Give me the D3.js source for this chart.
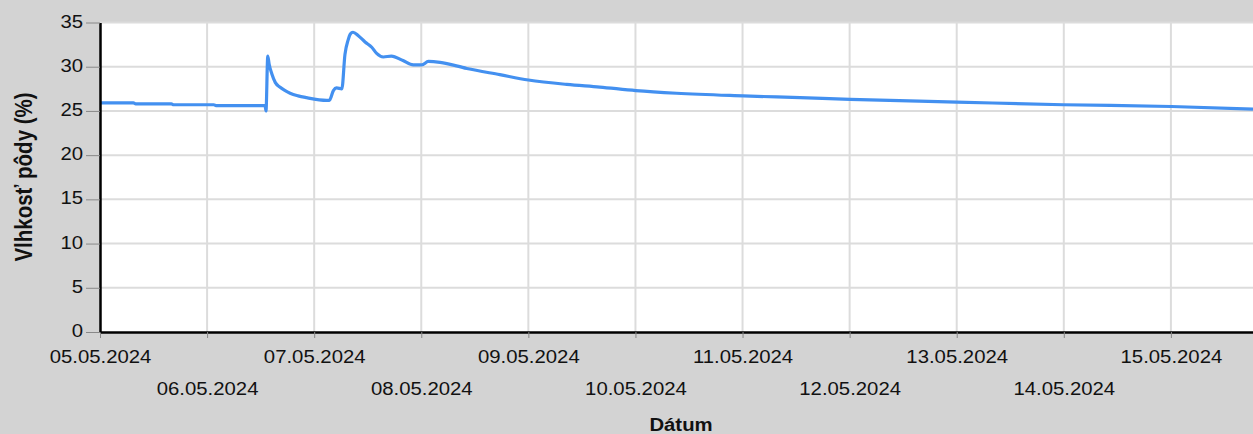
<!DOCTYPE html>
<html lang="sk">
<head>
<meta charset="UTF-8">
<title>Vlhkosť pôdy</title>
<style>
  body { margin: 0; background: #d3d3d3; overflow: hidden; }
  svg text { font-family: "Liberation Sans", Arial, sans-serif; fill: #111; }
</style>
</head>
<body>
<div id="chart"></div>
<script src="https://d3js.org/d3.v7.min.js"></script>
<script>
// soil moisture readings (time, %)
var times = [
  "2024-05-05 00:00", "2024-05-05 07:30", "2024-05-05 08:00", "2024-05-05 16:00", "2024-05-05 16:30",
  "2024-05-06 01:30", "2024-05-06 02:00", "2024-05-06 13:00", "2024-05-06 13:12", "2024-05-06 13:36",
  "2024-05-06 13:54", "2024-05-06 14:30", "2024-05-06 15:18", "2024-05-06 16:18", "2024-05-06 17:30",
  "2024-05-06 18:36", "2024-05-06 20:24", "2024-05-06 22:18",
  "2024-05-07 02:48", "2024-05-07 03:24", "2024-05-07 04:18", "2024-05-07 05:00", "2024-05-07 06:12",
  "2024-05-07 06:54", "2024-05-07 07:36", "2024-05-07 08:06", "2024-05-07 08:42", "2024-05-07 09:54",
  "2024-05-07 11:24", "2024-05-07 12:54", "2024-05-07 14:00", "2024-05-07 15:30", "2024-05-07 17:18",
  "2024-05-07 19:54", "2024-05-07 22:12", "2024-05-08 00:06", "2024-05-08 01:36", "2024-05-08 04:12",
  "2024-05-08 10:12", "2024-05-08 17:36", "2024-05-09 00:00", "2024-05-09 08:36", "2024-05-09 16:00",
  "2024-05-10 00:06", "2024-05-10 09:12", "2024-05-11 00:12", "2024-05-11 12:54", "2024-05-12 00:06",
  "2024-05-13 00:00", "2024-05-13 23:54", "2024-05-15 00:06", "2024-05-15 18:24"
];
var values = [
  25.9, 25.9, 25.8, 25.8, 25.7,
  25.7, 25.6, 25.6, 25.0, 31.2,
  30.3, 29.2, 28.2, 27.7, 27.3,
  27.0, 26.7, 26.5,
  26.2, 26.2, 27.3, 27.6, 27.5,
  31.4, 33.0, 33.7, 33.9, 33.5,
  32.8, 32.2, 31.5, 31.1, 31.2,
  30.7, 30.2, 30.2, 30.6, 30.5,
  29.8, 29.1, 28.5, 28.0, 27.7,
  27.3, 27.0, 26.7, 26.5, 26.3,
  26.0, 25.7, 25.5, 25.2
];
var dayTicks = [
  "2024-05-05", "2024-05-06", "2024-05-07", "2024-05-08", "2024-05-09", "2024-05-10",
  "2024-05-11", "2024-05-12", "2024-05-13", "2024-05-14", "2024-05-15"
];
var yTicks = [0, 5, 10, 15, 20, 25, 30, 35];

var width = 1253, height = 434;
var plotLeft = 100, plotTop = 22.5, plotBottom = 332, plotRight = 1253;
var sx = 1.13; // text looks slightly stretched horizontally

var parseTime = d3.timeParse("%Y-%m-%d %H:%M");
var parseDay = d3.timeParse("%Y-%m-%d");
var fmt = d3.timeFormat("%d.%m.%Y");

var data = times.map(function (t, i) { return { t: parseTime(t), v: values[i] }; });
var days = dayTicks.map(parseDay);

var svg = d3.select("#chart").append("svg")
  .attr("width", width)
  .attr("height", height);

var x = d3.scaleTime()
  .domain([parseTime("2024-05-05 00:00"), parseTime("2024-05-15 18:24")])
  .range([plotLeft, plotRight]);

var y = d3.scaleLinear()
  .domain([0, 35])
  .range([plotBottom, plotTop]);

// plot background
svg.append("rect")
  .attr("x", plotLeft).attr("y", plotTop)
  .attr("width", plotRight - plotLeft).attr("height", plotBottom - plotTop)
  .attr("fill", "#fff");

// grid
svg.append("g").selectAll("line")
  .data(yTicks.slice(1))
  .enter().append("line")
  .attr("x1", plotLeft).attr("x2", plotRight)
  .attr("y1", function (d) { return y(d); })
  .attr("y2", function (d) { return y(d); })
  .attr("stroke", "#dcdcdc").attr("stroke-width", 2);

svg.append("g").selectAll("line")
  .data(days.slice(1))
  .enter().append("line")
  .attr("x1", function (d) { return x(d); })
  .attr("x2", function (d) { return x(d); })
  .attr("y1", plotTop).attr("y2", plotBottom)
  .attr("stroke", "#dcdcdc").attr("stroke-width", 2);

// line
svg.append("path")
  .datum(data)
  .attr("fill", "none")
  .attr("stroke", "#4390f0")
  .attr("stroke-width", 3.2)
  .attr("stroke-linejoin", "round")
  .attr("d", d3.line()
    .curve(d3.curveMonotoneX)
    .x(function (d) { return x(d.t); })
    .y(function (d) { return y(d.v); }));

// x axis
var gx = svg.append("g")
  .attr("transform", "translate(0," + plotBottom + ")")
  .call(d3.axisBottom(x).tickValues(days).tickFormat(fmt).tickSize(6).tickSizeOuter(0));
gx.select(".domain").attr("stroke", "#000").attr("stroke-width", 2.5);
gx.selectAll(".tick line").attr("stroke", "#888");
gx.selectAll(".tick text")
  .attr("y", function (d, i) { return i % 2 === 0 ? 30.7 : 62.7; })
  .attr("dy", 0)
  .attr("transform", "scale(" + sx + ",1)")
  .style("font-size", "18px")
  .style("font-family", "'Liberation Sans', Arial, sans-serif")
  .attr("fill", "#111");

// y axis
var gy = svg.append("g")
  .attr("transform", "translate(" + plotLeft + ",0)")
  .call(d3.axisLeft(y).tickValues(yTicks).tickSize(14).tickSizeOuter(0));
gy.select(".domain").attr("stroke", "#000").attr("stroke-width", 2.5);
gy.selectAll(".tick line").attr("stroke", "#888");
gy.selectAll(".tick text")
  .attr("x", -17)
  .attr("dy", "0.25em")
  .attr("transform", "translate(-17,0) scale(" + sx + ",1) translate(17,0)")
  .style("font-size", "18px")
  .style("font-family", "'Liberation Sans', Arial, sans-serif")
  .attr("fill", "#111");

// axis titles
svg.append("text")
  .attr("transform", "translate(681,430.7) scale(" + sx + ",1)")
  .attr("text-anchor", "middle")
  .style("font-size", "18px")
  .style("font-weight", "bold")
  .text("Dátum");

svg.append("text")
  .attr("transform", "translate(32,177) scale(" + sx + ",1) rotate(-90)")
  .attr("text-anchor", "middle")
  .style("font-size", "20.5px")
  .style("font-weight", "bold")
  .text("Vlhkosť pôdy (%)");
</script>
</body>
</html>
